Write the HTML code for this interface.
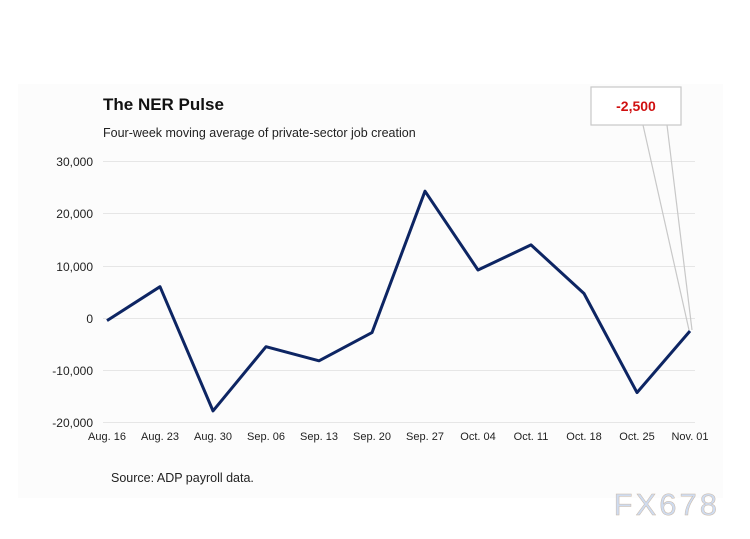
<!DOCTYPE html>
<html><head><meta charset="utf-8"><style>
html,body{margin:0;padding:0;background:#fff;}
svg{display:block;font-family:"Liberation Sans",Arial,sans-serif;}
</style></head><body>
<svg width="750" height="539" viewBox="0 0 750 539" xmlns="http://www.w3.org/2000/svg">
<rect x="0" y="0" width="750" height="539" fill="#fff"/>
<rect x="18" y="84" width="705" height="414" fill="#fcfcfc"/>
<text x="103" y="110" font-size="17" font-weight="bold" fill="#111">The NER Pulse</text>
<text x="103" y="137" font-size="12.5" fill="#222">Four-week moving average of private-sector job creation</text>
<g stroke="#e6e6e6" stroke-width="1">
<line x1="103" y1="161.5" x2="695" y2="161.5"/>
<line x1="103" y1="213.5" x2="695" y2="213.5"/>
<line x1="103" y1="266.5" x2="695" y2="266.5"/>
<line x1="103" y1="318.5" x2="695" y2="318.5"/>
<line x1="103" y1="370.5" x2="695" y2="370.5"/>
<line x1="103" y1="422.5" x2="695" y2="422.5"/>
</g>
<g font-size="12" fill="#222" text-anchor="end">
<text x="93" y="166">30,000</text>
<text x="93" y="218">20,000</text>
<text x="93" y="271">10,000</text>
<text x="93" y="323">0</text>
<text x="93" y="375">-10,000</text>
<text x="93" y="427">-20,000</text>
</g>
<g font-size="11" fill="#222" text-anchor="middle">
<text x="107" y="440">Aug. 16</text>
<text x="160" y="440">Aug. 23</text>
<text x="213" y="440">Aug. 30</text>
<text x="266" y="440">Sep. 06</text>
<text x="319" y="440">Sep. 13</text>
<text x="372" y="440">Sep. 20</text>
<text x="425" y="440">Sep. 27</text>
<text x="478" y="440">Oct. 04</text>
<text x="531" y="440">Oct. 11</text>
<text x="584" y="440">Oct. 18</text>
<text x="637" y="440">Oct. 25</text>
<text x="690" y="440">Nov. 01</text>
</g>
<polyline fill="none" stroke="#0d2563" stroke-width="3" stroke-linejoin="round" points="107,320.6 160,286.7 213,410.9 266,346.7 319,360.8 372,332.6 425,191.2 478,270 531,244.9 584,293.5 637,392.6 690,331"/>
<g stroke="#c8c8c8" stroke-width="1.2" fill="none">
<line x1="643" y1="125" x2="689" y2="330"/>
<line x1="667" y1="125" x2="692" y2="330"/>
</g>
<rect x="591" y="87" width="90" height="38" fill="#fff" stroke="#c8c8c8" stroke-width="1.2"/>
<text x="636" y="111" font-size="14" font-weight="bold" fill="#d01010" text-anchor="middle">-2,500</text>
<text x="111" y="482" font-size="12.5" fill="#222">Source: ADP payroll data.</text>
<text x="720" y="515" font-size="31" fill="#cfdcf0" stroke="#c9b8a8" stroke-width="0.5" text-anchor="end" letter-spacing="3">FX678</text>
</svg>
</body></html>
